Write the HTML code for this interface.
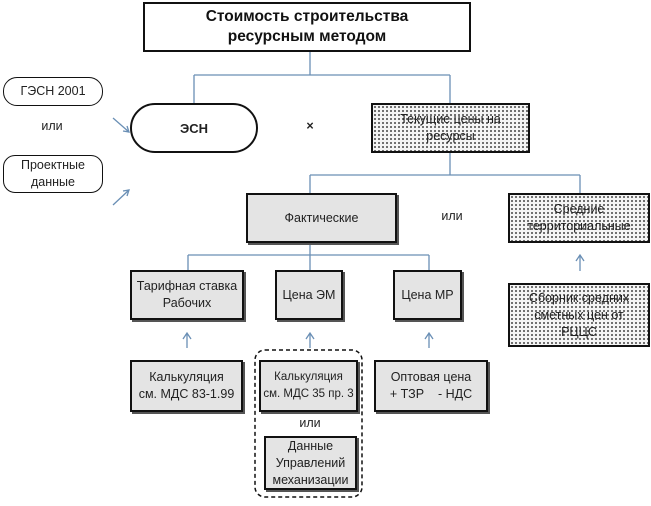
<!DOCTYPE html>
<html><head><meta charset="utf-8"><style>
body{margin:0;width:651px;height:506px;background:#fff;font-family:"Liberation Sans",sans-serif;position:relative;overflow:hidden}
.b{position:absolute;box-sizing:border-box;border:2px solid #111;display:flex;align-items:center;justify-content:center;text-align:center;font-size:12.5px;line-height:17px;color:#222}
.g{background:#e4e4e4;box-shadow:2px 2px 0 #555}
.d{background-color:#f4f4f4;background-image:radial-gradient(#444 0.8px,transparent 1px);background-size:4px 4px}
.t{position:absolute;font-size:12.5px;color:#222;text-align:center}
svg{position:absolute;left:0;top:0}
</style></head><body>
<svg width="651" height="506">
<g stroke="#6a8fb5" stroke-width="1.3" fill="none">
<path d="M310 52V75M194 75H450M194 75V103M450 75V103"/>
<path d="M450 153V175M310 175H580M310 175V193M580 175V193"/>
<path d="M310 243V255M188 255H429M188 255V270M310 255V270M429 255V270"/>
<path d="M187 348V334M183 339L187 333L191 339M310 348V334M306 339L310 333L314 339M429 348V334M425 339L429 333L433 339M580 271V256M576 261L580 255L584 261"/>
<path d="M113 118L129 132M123 131L129 132L127 126M113 205L129 190M123 191L129 190L127 196"/>
</g>
<rect x="255" y="350" width="107" height="147" rx="10" fill="none" stroke="#111" stroke-width="1.5" stroke-dasharray="4,3"/>
</svg>
<div class="b" style="left:143px;top:2px;width:328px;height:50px;font-weight:bold;font-size:15.5px;line-height:20px;color:#111">Стоимость строительства<br>ресурсным методом</div>
<div class="b" style="left:3px;top:77px;width:100px;height:29px;border-radius:14px;border-width:1.5px">ГЭСН 2001</div>
<div class="t" style="left:30px;top:119px;width:44px">или</div>
<div class="b" style="left:3px;top:155px;width:100px;height:38px;border-radius:12px;border-width:1.5px">Проектные<br>данные</div>
<div class="b" style="left:130px;top:103px;width:128px;height:50px;border-radius:25px;font-weight:bold;font-size:13px">ЭСН</div>
<div class="t" style="left:300px;top:119px;width:20px;font-weight:bold">×</div>
<div class="b d" style="left:371px;top:103px;width:159px;height:50px">Текущие цены на<br>ресурсы</div>
<div class="b g" style="left:246px;top:193px;width:151px;height:50px">Фактические</div>
<div class="t" style="left:430px;top:209px;width:44px">или</div>
<div class="b d" style="left:508px;top:193px;width:142px;height:50px">Средние<br>территориальные</div>
<div class="b g" style="left:130px;top:270px;width:114px;height:50px">Тарифная ставка<br>Рабочих</div>
<div class="b g" style="left:275px;top:270px;width:68px;height:50px">Цена ЭМ</div>
<div class="b g" style="left:393px;top:270px;width:69px;height:50px">Цена МР</div>
<div class="b d" style="left:508px;top:283px;width:142px;height:64px">Сборник средних<br>сметных цен от<br>РЦЦС</div>
<div class="b g" style="left:130px;top:360px;width:113px;height:52px">Калькуляция<br>см. МДС 83-1.99</div>
<div class="b g" style="left:259px;top:360px;width:99px;height:52px;font-size:11.5px">Калькуляция<br>см. МДС 35 пр. 3</div>
<div class="t" style="left:290px;top:416px;width:40px">или</div>
<div class="b g" style="left:264px;top:436px;width:93px;height:54px">Данные<br>Управлений<br>механизации</div>
<div class="b g" style="left:374px;top:360px;width:114px;height:52px">Оптовая цена<br>+ ТЗР &nbsp;&nbsp; - НДС</div>
</body></html>
